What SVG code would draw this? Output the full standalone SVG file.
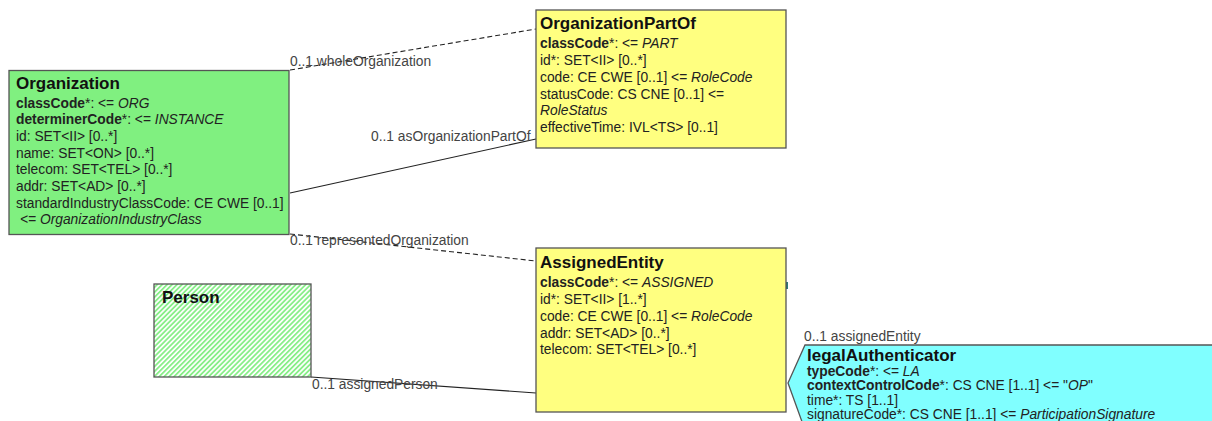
<svg xmlns="http://www.w3.org/2000/svg" width="1212" height="421" viewBox="0 0 1212 421">
<style>
text{font-family:"Liberation Sans",Arial,sans-serif;font-size:13.8px;fill:#222}
.t{font-size:17px;font-weight:bold;fill:#111}
.b{font-weight:bold}
.i{font-style:italic}
.lbl{fill:#444}
.box{stroke:#555;stroke-width:1.3}
.ln{stroke:#222;stroke-width:1.1;fill:none}
.dash{stroke-dasharray:5,3}
</style>
<defs>
<pattern id="hatch" width="3.5" height="3.5" patternUnits="userSpaceOnUse" patternTransform="rotate(45)">
<rect width="3.5" height="3.5" fill="#ffffff"/>
<rect width="1.8" height="3.5" fill="#88ee88"/>
</pattern>
</defs>
<rect width="1212" height="421" fill="#ffffff"/>
<g id="connectors">
<line class="ln dash" x1="290" y1="70" x2="536" y2="29"/>
<line class="ln" x1="290" y1="193" x2="536" y2="139"/>
<line class="ln dash" x1="290" y1="234" x2="536" y2="261"/>
<line class="ln" x1="311" y1="377" x2="536" y2="393"/>
<line x1="787" y1="282" x2="787" y2="289" stroke="#2a7a7a" stroke-width="2"/>
<text class="lbl" x="290" y="66">0..1 wholeOrganization</text>
<text class="lbl" x="371" y="141">0..1 asOrganizationPartOf</text>
<text class="lbl" x="290" y="245">0..1 representedOrganization</text>
<text class="lbl" x="312" y="389">0..1 assignedPerson</text>
<text class="lbl" x="804" y="341">0..1 assignedEntity</text>
</g>
<g id="Organization">
<rect class="box" x="9" y="70.5" width="280" height="164" fill="#80f080"/>
<text class="t" x="16" y="89">Organization</text>
<text x="16" y="107.5"><tspan class="b">classCode</tspan>*: &lt;= <tspan class="i">ORG</tspan></text>
<text x="16" y="124.2"><tspan class="b">determinerCode</tspan>*: &lt;= <tspan class="i">INSTANCE</tspan></text>
<text x="16" y="140.9">id: SET&lt;II&gt; [0..*]</text>
<text x="16" y="157.6">name: SET&lt;ON&gt; [0..*]</text>
<text x="16" y="174.3">telecom: SET&lt;TEL&gt; [0..*]</text>
<text x="16" y="191">addr: SET&lt;AD&gt; [0..*]</text>
<text x="16" y="207.7">standardIndustryClassCode: CE CWE [0..1]</text>
<text x="20" y="224.4" class="i">&lt;= OrganizationIndustryClass</text>
</g>
<g id="OrganizationPartOf">
<rect class="box" x="536" y="10" width="250" height="138" fill="#ffff80"/>
<text class="t" x="540" y="28.5">OrganizationPartOf</text>
<text x="540" y="48"><tspan class="b">classCode</tspan>*: &lt;= <tspan class="i">PART</tspan></text>
<text x="540" y="65">id*: SET&lt;II&gt; [0..*]</text>
<text x="540" y="81.8">code: CE CWE [0..1] &lt;= <tspan class="i">RoleCode</tspan></text>
<text x="540" y="98.6">statusCode: CS CNE [0..1] &lt;=</text>
<text x="540" y="115.4" class="i">RoleStatus</text>
<text x="540" y="132.3">effectiveTime: IVL&lt;TS&gt; [0..1]</text>
</g>
<g id="AssignedEntity">
<rect class="box" x="536" y="248" width="250" height="164" fill="#ffff80"/>
<text class="t" x="540" y="268">AssignedEntity</text>
<text x="540" y="287"><tspan class="b">classCode</tspan>*: &lt;= <tspan class="i">ASSIGNED</tspan></text>
<text x="540" y="304">id*: SET&lt;II&gt; [1..*]</text>
<text x="540" y="321">code: CE CWE [0..1] &lt;= <tspan class="i">RoleCode</tspan></text>
<text x="540" y="338">addr: SET&lt;AD&gt; [0..*]</text>
<text x="540" y="354">telecom: SET&lt;TEL&gt; [0..*]</text>
</g>
<g id="Person">
<rect class="box" x="154" y="284" width="157" height="93" fill="url(#hatch)"/>
<text class="t" x="162" y="303">Person</text>
</g>
<g id="legalAuthenticator">
<path class="box" d="M1220,345 L805,345 L788,383 L805,430 L1220,430 Z" fill="#80ffff"/>
<text class="t" x="807" y="361">legalAuthenticator</text>
<text x="807" y="375.5"><tspan class="b">typeCode</tspan>*: &lt;= <tspan class="i">LA</tspan></text>
<text x="807" y="390"><tspan class="b">contextControlCode</tspan>*: CS CNE [1..1] &lt;= "<tspan class="i">OP</tspan>"</text>
<text x="807" y="404.5">time*: TS [1..1]</text>
<text x="807" y="419">signatureCode*: CS CNE [1..1] &lt;= <tspan class="i">ParticipationSignature</tspan></text>
</g>
</svg>
